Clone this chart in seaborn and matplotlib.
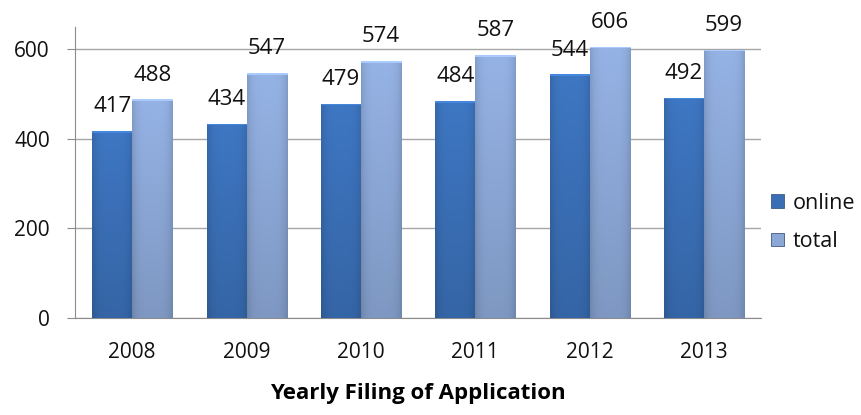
import numpy as np
import pandas as pd
import matplotlib
matplotlib.use('Agg')
from matplotlib import pyplot as plt
from matplotlib.colors import to_rgb
import seaborn as sns

# data
years = ['2008', '2009', '2010', '2011', '2012', '2013']
online = [417, 434, 479, 484, 544, 492]
total = [488, 547, 574, 587, 606, 599]
series = ['online', 'total']
yticks = [0, 200, 400, 600]

df = pd.DataFrame({
    'year': years * 2,
    'count': online + total,
    'kind': ['online'] * len(years) + ['total'] * len(years),
})

sns.set_style('white')
plt.rcParams['font.family'] = ['Open Sans', 'DejaVu Sans']
plt.rcParams['text.color'] = '#111111'
plt.rcParams['axes.labelcolor'] = '#000000'
plt.rcParams['xtick.color'] = '#111111'
plt.rcParams['ytick.color'] = '#111111'

fig = plt.figure(figsize=(8.62, 4.15), dpi=100)
ax = fig.add_axes([0.087, 0.234, 0.796, 0.701])

pal = {'online': '#3a6fb6', 'total': '#8ba7d6'}
sns.barplot(data=df, x='year', y='count', hue='kind', hue_order=series,
            palette=pal, width=0.7, saturation=1, ax=ax,
            edgecolor='#3d5a85', linewidth=0.6, zorder=3)

ymax = 650
px_per_unit = 291 / ymax  # axes height in pixels / data range

# excel-like shading on each bar, clipped to the bar itself
for p in list(ax.patches):
    h = p.get_height()
    if h <= 0:
        continue
    base = np.array(to_rgb(p.get_facecolor()))
    n = int(h * px_per_unit)
    t = np.linspace(0, 1, n)[:, None]
    s = np.linspace(0, 1, 40)[None, :]
    f = 1.07 - 0.16 * t
    f = f * (1 - 0.12 * np.abs(2 * s - 1) ** 4)
    f = np.where(np.arange(n)[:, None] < 2, 1.22, f)
    img = np.clip(base[None, None, :] * f[:, :, None], 0, 1)
    im = ax.imshow(img, extent=[p.get_x(), p.get_x() + p.get_width(), 0, h],
                   aspect='auto', zorder=3.1, interpolation='nearest')
    im.set_clip_path(p)

for c in ax.containers:
    ax.bar_label(c, padding=10, fontsize=16, color='#111111', zorder=5)

ax.set_xlim(-0.5, len(years) - 0.5)
ax.set_ylim(0, ymax)
ax.set_yticks(yticks)
ax.yaxis.grid(True, color='#a6a6a6', linewidth=1.0, zorder=0)
ax.set_axisbelow(True)
for side in ['top', 'right']:
    ax.spines[side].set_visible(False)
ax.spines['left'].set_color('#8c8c8c')
ax.spines['bottom'].set_color('#8c8c8c')
ax.tick_params(axis='y', length=6, color='#8c8c8c', labelcolor='#111111',
               pad=12, labelsize=15, left=True)
ax.tick_params(axis='x', length=0, pad=17, labelsize=15, labelcolor='#111111')
ax.set_ylabel('')
ax.set_xlabel('Yearly Filing of Application', fontsize=16,
              fontweight='bold', labelpad=15)

leg = ax.legend(loc='center left', bbox_to_anchor=(1.014, 0.328),
                frameon=False, fontsize=15.5, borderaxespad=0, borderpad=0,
                handlelength=0.6, handleheight=0.6, handletextpad=0.4,
                labelspacing=0.8)

fig.savefig('out.png', dpi=100)
